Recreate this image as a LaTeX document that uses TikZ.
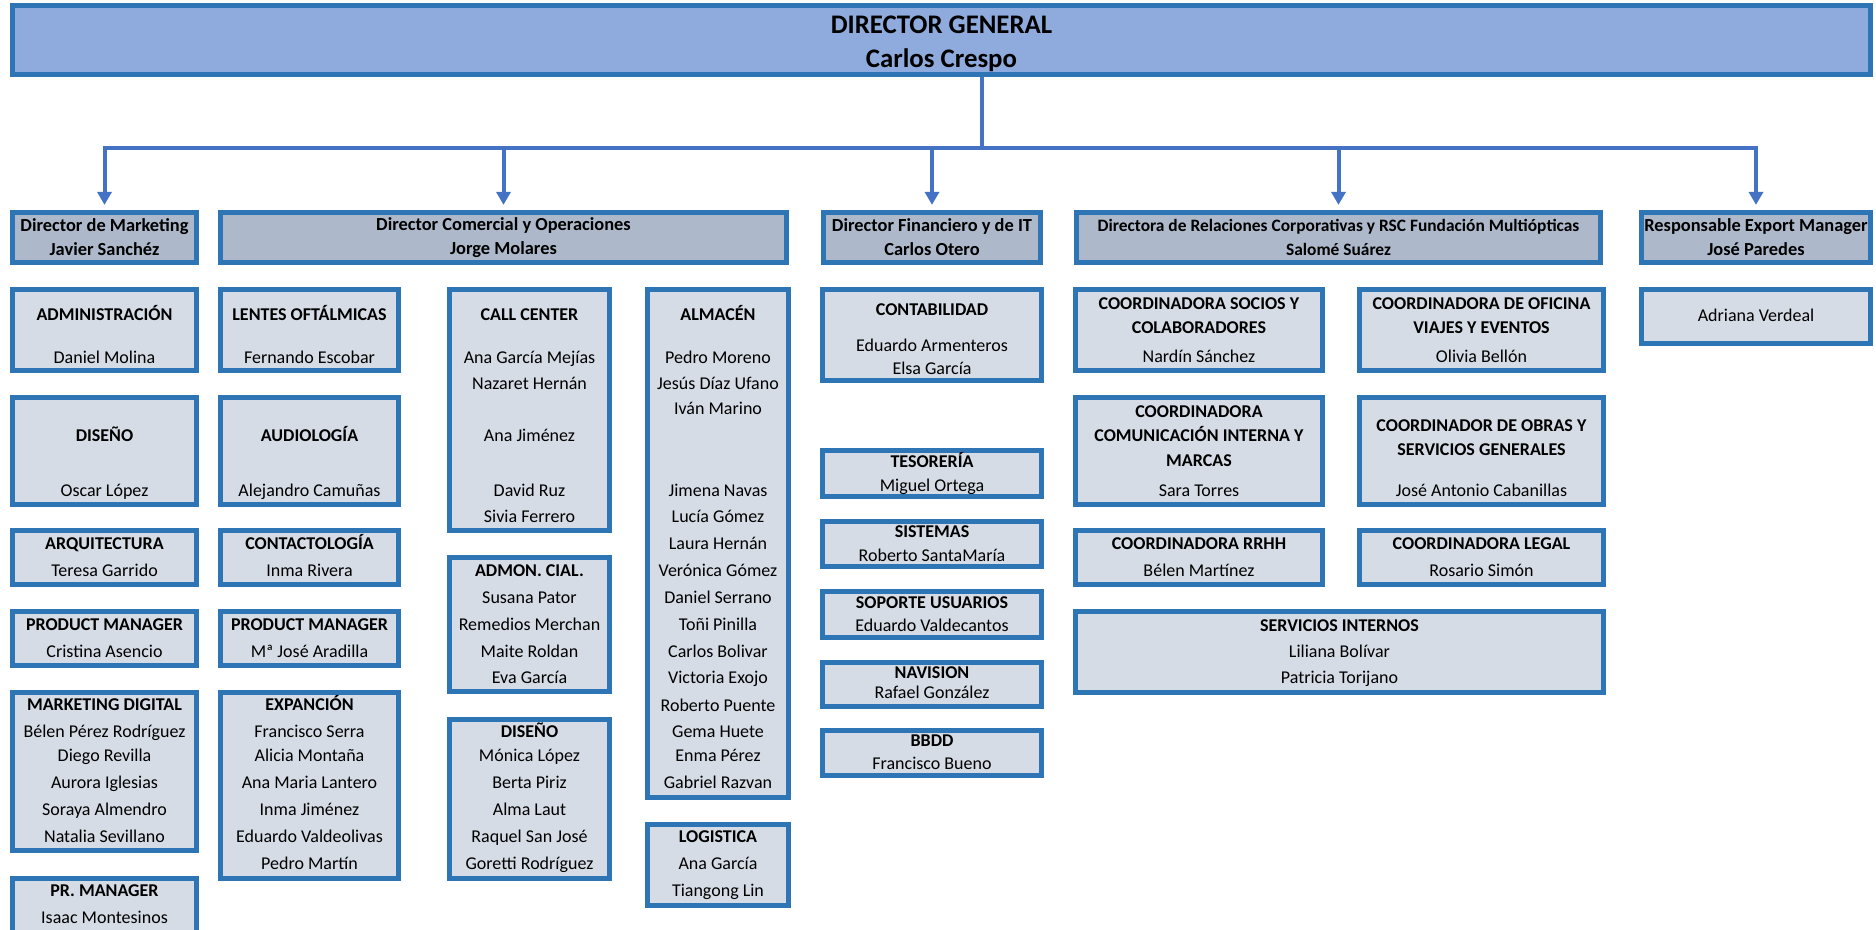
\documentclass[tikz,border=0pt]{standalone}
\usepackage{fontspec}
\setmainfont{Carlito}
\usepackage{tikz}
\usetikzlibrary{arrows.meta, positioning}
\definecolor{boxblue}{RGB}{46,117,182}
\definecolor{linkblue}{RGB}{68,114,196}
\definecolor{genfill}{RGB}{143,170,220}
\definecolor{dirfill}{RGB}{173,185,202}
\definecolor{unitfill}{RGB}{214,220,229}
\tikzset{
  genbox/.style={rectangle, draw=boxblue, line width=2.6pt, fill=genfill, inner sep=0pt},
  gentxt/.style={inner sep=0pt, align=center, font=\fontsize{13.4}{17}\selectfont\bfseries},
  dirbox/.style={rectangle, draw=boxblue, line width=2.6pt, fill=dirfill, inner sep=0pt, align=center,
                 minimum height=25pt, font=\fontsize{9.2}{12}\selectfont\bfseries},
  unit/.style={draw=boxblue, line width=2.6pt, fill=unitfill},
  txt/.style={anchor=mid, inner sep=0pt, font=\fontsize{9}{10}\selectfont},
  link/.style={draw=linkblue, line width=2pt},
  arrowline/.style={link, -{Triangle[width=7pt, length=6.5pt]}, shorten >=2.5pt},
}

\begin{document}
\begin{tikzpicture}[x=0.5pt, y=-0.5pt]
\useasboundingbox (0,0) rectangle (1876,930);

% top of the chart
\node[genbox, minimum width=929pt, minimum height=34.5pt] (gen) at (941.5,40) {};
\node[gentxt] (gentitle) at (941.5,43.5) {DIRECTOR GENERAL\\Carlos Crespo};

% directors
\node[dirbox, minimum width=92pt]    (mkt) at (104.5,237.5)  {Director de Marketing\\Javier Sanchéz};
\node[dirbox, minimum width=283pt]   (com) at (503.5,237.5)  {Director Comercial y Operaciones\\Jorge Molares};
\node[dirbox, minimum width=108.5pt] (fin) at (932,237.5)    {Director Financiero y de IT\\Carlos Otero};
\node[dirbox, minimum width=262pt, font=\fontsize{8.7}{12}\selectfont\bfseries]
                                     (rel) at (1338.5,237.5) {Directora de Relaciones Corporativas y RSC Fundación Multiópticas\\Salomé Suárez};
\node[dirbox, minimum width=114.5pt] (exp) at (1756,237.5)   {Responsable Export Manager\\José Paredes};

% connectors
\coordinate (drop) at (982,148);
\draw[link] (drop |- gen.south) -- (drop);
\draw[link, line cap=rect] (mkt.north |- drop) -- (exp.north |- drop);
\foreach \d in {mkt, com, fin, rel, exp}
  \draw[arrowline] (\d.north |- drop) -- (\d.north);

% marketing
\draw[unit] (12.5,289.5) rectangle (196.5,370.5);
\foreach \t/\y [count=\i] in {\textbf{ADMINISTRACIÓN}/316, Daniel Molina/359}
  \node[txt] (adm\i) at (104.5,\y) {\t};
\draw[unit] (12.5,397.5) rectangle (196.5,504.5);
\foreach \t/\y [count=\i] in {\textbf{DISEÑO}/437, Oscar López/492}
  \node[txt] (dsa\i) at (104.5,\y) {\t};
\draw[unit] (12.5,530.5) rectangle (196.5,584.5);
\foreach \t/\y [count=\i] in {\textbf{ARQUITECTURA}/545, Teresa Garrido/572}
  \node[txt] (arq\i) at (104.5,\y) {\t};
\draw[unit] (12.5,611.5) rectangle (196.5,665.5);
\foreach \t/\y [count=\i] in {\textbf{PRODUCT MANAGER}/626, Cristina Asencio/653}
  \node[txt] (pma\i) at (104.5,\y) {\t};
\draw[unit] (12.5,692.5) rectangle (196.5,850.5);
\foreach \t/\y [count=\i] in {\textbf{MARKETING DIGITAL}/706, Bélen Pérez Rodríguez/733, Diego Revilla/757,
    Aurora Iglesias/784, Soraya Almendro/811, Natalia Sevillano/838}
  \node[txt] (mkd\i) at (104.5,\y) {\t};
\draw[unit] (12.5,878.5) rectangle (196.5,945);
\foreach \t/\y [count=\i] in {\textbf{PR. MANAGER}/892, Isaac Montesinos/919}
  \node[txt] (prm\i) at (104.5,\y) {\t};

% comercial, first column
\draw[unit] (220.5,289.5) rectangle (398.5,370.5);
\foreach \t/\y [count=\i] in {\textbf{LENTES OFTÁLMICAS}/316, Fernando Escobar/359}
  \node[txt] (len\i) at (309.5,\y) {\t};
\draw[unit] (220.5,397.5) rectangle (398.5,504.5);
\foreach \t/\y [count=\i] in {\textbf{AUDIOLOGÍA}/437, Alejandro Camuñas/492}
  \node[txt] (aud\i) at (309.5,\y) {\t};
\draw[unit] (220.5,530.5) rectangle (398.5,584.5);
\foreach \t/\y [count=\i] in {\textbf{CONTACTOLOGÍA}/545, Inma Rivera/572}
  \node[txt] (cnt\i) at (309.5,\y) {\t};
\draw[unit] (220.5,611.5) rectangle (398.5,665.5);
\foreach \t/\y [count=\i] in {\textbf{PRODUCT MANAGER}/626, Mª José Aradilla/653}
  \node[txt] (pmb\i) at (309.5,\y) {\t};
\draw[unit] (220.5,692.5) rectangle (398.5,878.5);
\foreach \t/\y [count=\i] in {\textbf{EXPANCIÓN}/706, Francisco Serra/733, Alicia Montaña/757, Ana Maria Lantero/784,
    Inma Jiménez/811, Eduardo Valdeolivas/838, Pedro Martín/865}
  \node[txt] (exn\i) at (309.5,\y) {\t};

% comercial, second column
\draw[unit] (449.5,289.5) rectangle (609.5,530.5);
\foreach \t/\y [count=\i] in {\textbf{CALL CENTER}/316, Ana García Mejías/359, Nazaret Hernán/385,
    Ana Jiménez/437, David Ruz/492, Sivia Ferrero/518}
  \node[txt] (cal\i) at (529.5,\y) {\t};
\draw[unit] (449.5,557.5) rectangle (609.5,691.5);
\foreach \t/\y [count=\i] in {\textbf{ADMON. CIAL.}/572, Susana Pator/599, Remedios Merchan/626,
    Maite Roldan/653, Eva García/679}
  \node[txt] (acl\i) at (529.5,\y) {\t};
\draw[unit] (449.5,719.5) rectangle (609.5,878.5);
\foreach \t/\y [count=\i] in {\textbf{DISEÑO}/733, Mónica López/757, Berta Piriz/784, Alma Laut/811,
    Raquel San José/838, Goretti Rodríguez/865}
  \node[txt] (dsc\i) at (529.5,\y) {\t};

% comercial, third column
\draw[unit] (647.5,289.5) rectangle (788.5,797.5);
\foreach \t/\y [count=\i] in {\textbf{ALMACÉN}/316, Pedro Moreno/359, Jesús Díaz Ufano/385, Iván Marino/410,
    Jimena Navas/492, Lucía Gómez/518, Laura Hernán/545, Verónica Gómez/572, Daniel Serrano/599,
    Toñi Pinilla/626, Carlos Bolivar/653, Victoria Exojo/679, Roberto Puente/707, Gema Huete/733,
    Enma Pérez/757, Gabriel Razvan/784}
  \node[txt] (alm\i) at (718,\y) {\t};
\draw[unit] (647.5,824.5) rectangle (788.5,905.5);
\foreach \t/\y [count=\i] in {\textbf{LOGISTICA}/838, Ana García/865, Tiangong Lin/892}
  \node[txt] (log\i) at (718,\y) {\t};

% financiero
\draw[unit] (822.5,289.5) rectangle (1041.5,380.5);
\foreach \t/\y [count=\i] in {\textbf{CONTABILIDAD}/311, Eduardo Armenteros/347, Elsa García/370}
  \node[txt] (ctb\i) at (932,\y) {\t};
\draw[unit] (822.5,450.5) rectangle (1041.5,496.5);
\foreach \t/\y [count=\i] in {\textbf{TESORERÍA}/463, Miguel Ortega/487}
  \node[txt] (tes\i) at (932,\y) {\t};
\draw[unit] (822.5,521.5) rectangle (1041.5,566.5);
\foreach \t/\y [count=\i] in {\textbf{SISTEMAS}/533, Roberto SantaMaría/557}
  \node[txt] (sis\i) at (932,\y) {\t};
\draw[unit] (822.5,591.5) rectangle (1041.5,637.5);
\foreach \t/\y [count=\i] in {\textbf{SOPORTE USUARIOS}/604, Eduardo Valdecantos/627}
  \node[txt] (sop\i) at (932,\y) {\t};
\draw[unit] (822.5,662.5) rectangle (1041.5,706.5);
\foreach \t/\y [count=\i] in {\textbf{NAVISION}/674, Rafael González/694}
  \node[txt] (nav\i) at (932,\y) {\t};
\draw[unit] (822.5,730.5) rectangle (1041.5,775.5);
\foreach \t/\y [count=\i] in {\textbf{BBDD}/742, Francisco Bueno/765}
  \node[txt] (bbd\i) at (932,\y) {\t};

% relaciones corporativas
\draw[unit] (1075.5,289.5) rectangle (1322.5,370.5);
\foreach \t/\y [count=\i] in {\textbf{COORDINADORA SOCIOS Y}/305, \textbf{COLABORADORES}/329, Nardín Sánchez/358}
  \node[txt] (soc\i) at (1199,\y) {\t};
\draw[unit] (1359.5,289.5) rectangle (1603.5,370.5);
\foreach \t/\y [count=\i] in {\textbf{COORDINADORA DE OFICINA}/305, \textbf{VIAJES Y EVENTOS}/329, Olivia Bellón/358}
  \node[txt] (ofi\i) at (1481.5,\y) {\t};
\draw[unit] (1075.5,397.5) rectangle (1322.5,504.5);
\foreach \t/\y [count=\i] in {\textbf{COORDINADORA}/413, \textbf{COMUNICACIÓN INTERNA Y}/437, \textbf{MARCAS}/462, Sara Torres/492}
  \node[txt] (cmi\i) at (1199,\y) {\t};
\draw[unit] (1359.5,397.5) rectangle (1603.5,504.5);
\foreach \t/\y [count=\i] in {\textbf{COORDINADOR DE OBRAS Y}/427, \textbf{SERVICIOS GENERALES}/451, José Antonio Cabanillas/492}
  \node[txt] (obr\i) at (1481.5,\y) {\t};
\draw[unit] (1075.5,530.5) rectangle (1322.5,584.5);
\foreach \t/\y [count=\i] in {\textbf{COORDINADORA RRHH}/545, Bélen Martínez/572}
  \node[txt] (rhh\i) at (1199,\y) {\t};
\draw[unit] (1359.5,530.5) rectangle (1603.5,584.5);
\foreach \t/\y [count=\i] in {\textbf{COORDINADORA LEGAL}/545, Rosario Simón/572}
  \node[txt] (leg\i) at (1481.5,\y) {\t};
\draw[unit] (1075.5,611.5) rectangle (1603.5,692.5);
\foreach \t/\y [count=\i] in {\textbf{SERVICIOS INTERNOS}/627, Liliana Bolívar/653, Patricia Torijano/679}
  \node[txt] (sin\i) at (1339.5,\y) {\t};

% export
\draw[unit] (1641.5,289.5) rectangle (1870.5,343.5);
\node[txt] (adr1) at (1756,317) {Adriana Verdeal};
\end{tikzpicture}
\end{document}
